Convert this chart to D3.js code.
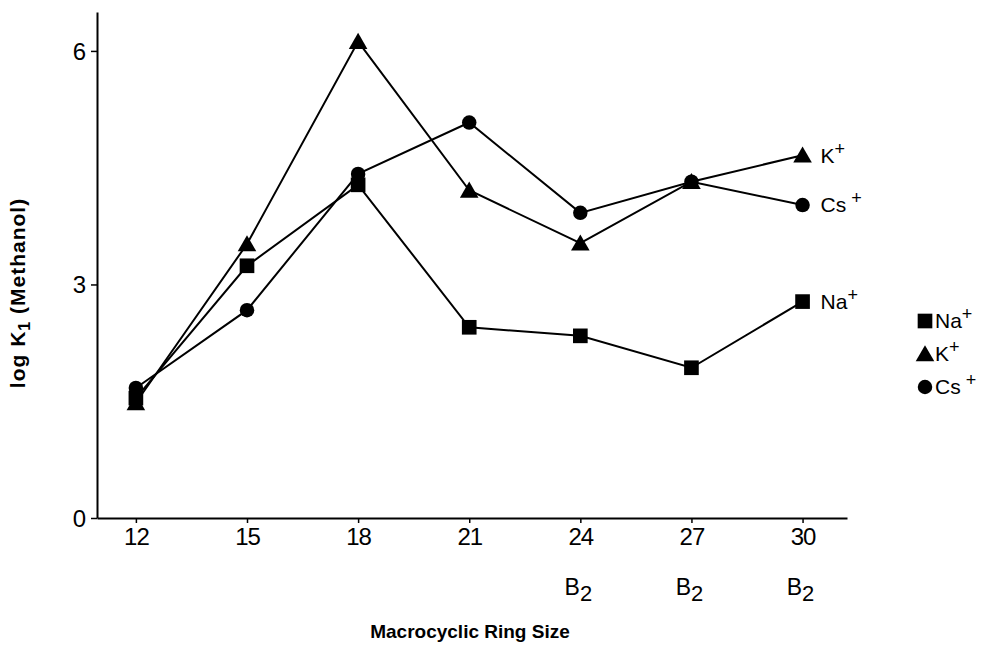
<!DOCTYPE html>
<html>
<head>
<meta charset="utf-8">
<script src="https://cdn.jsdelivr.net/npm/d3@7"></script>
<style>
  html, body { margin: 0; padding: 0; background: #fff; }
  svg { display: block; font-family: "Liberation Sans", Arial, sans-serif; }
</style>
</head>
<body>
<svg id="chart" width="984" height="647"></svg>
<script>
// ring sizes and log K1 values
const ringSizes = [12, 15, 18, 21, 24, 27, 30];
const benzoRings = [24, 27, 30];          // marked "B2" under the axis
const naValues = [1.54, 3.24, 4.28, 2.45, 2.34, 1.93, 2.78];
const kValues  = [1.48, 3.52, 6.12, 4.21, 3.53, 4.32, 4.66];
const csValues = [1.67, 2.67, 4.42, 5.08, 3.92, 4.32, 4.02];
const yTicks = [0, 3, 6];

const series = [
  { name: "Na", values: naValues, symbol: d3.symbolSquare,   size: 215, dy: 0 },
  { name: "K",  values: kValues,  symbol: d3.symbolTriangle, size: 150, dy: 2 },
  { name: "Cs", values: csValues, symbol: d3.symbolCircle,   size: 165, dy: 0 }
];

const svg = d3.select("#chart");

const x = d3.scaleLinear().domain([10.95, 31.2]).range([97, 847]);
const y = d3.scaleLinear().domain([0, 6.5]).range([518, 12]);

// --- axes ---
const xAxis = svg.append("g")
  .attr("transform", `translate(0,${y(0)})`)
  .call(d3.axisBottom(x).tickValues(ringSizes).tickSize(5).tickSizeOuter(0).tickPadding(5));

const yAxis = svg.append("g")
  .attr("transform", `translate(${x(10.95)},0)`)
  .call(d3.axisLeft(y).tickValues(yTicks).tickFormat(d3.format("d"))
    .tickSize(6).tickSizeOuter(0).tickPadding(6));

[xAxis, yAxis].forEach(a => {
  a.select(".domain").attr("stroke", "#000").attr("stroke-width", 2);
  a.selectAll(".tick line").attr("stroke", "#000").attr("stroke-width", 1.5);
  a.selectAll(".tick text")
    .attr("fill", "#000")
    .style("font-size", "24px")
    .style("letter-spacing", "-1px");
});
yAxis.selectAll(".tick text").attr("dy", "0.35em");

// B2 labels under the benzo ring sizes
const b2 = svg.append("g").selectAll("text")
  .data(benzoRings)
  .join("text")
  .attr("x", d => x(d) - 2)
  .attr("y", 595)
  .attr("text-anchor", "middle")
  .style("font-size", "23px");
b2.append("tspan").text("B");
b2.append("tspan").attr("dy", 6).style("font-size", "22px").text("2");

// axis titles
svg.append("text")
  .attr("x", 470)
  .attr("y", 638)
  .attr("text-anchor", "middle")
  .style("font-size", "19px")
  .style("font-weight", "bold")
  .text("Macrocyclic Ring Size");

const yTitle = svg.append("text")
  .attr("transform", "translate(25,293) rotate(-90)")
  .attr("text-anchor", "middle")
  .style("font-size", "21px")
  .style("font-weight", "bold")
  .style("letter-spacing", "1px");
yTitle.append("tspan").text("log K");
yTitle.append("tspan").attr("dy", 5).style("font-size", "16px").text("1");
yTitle.append("tspan").attr("dy", -5).text(" (Methanol)");

// --- lines and markers ---
const line = d3.line()
  .x((d, i) => x(ringSizes[i]))
  .y(d => y(d));

series.forEach(s => {
  svg.append("path")
    .datum(s.values)
    .attr("d", line)
    .attr("fill", "none")
    .attr("stroke", "#000")
    .attr("stroke-width", 2);
});

series.forEach(s => {
  svg.append("g").selectAll("path")
    .data(s.values)
    .join("path")
    .attr("transform", (d, i) => `translate(${x(ringSizes[i])},${y(d) + s.dy})`)
    .attr("d", d3.symbol().type(s.symbol).size(s.size))
    .attr("fill", "#000");
});

// ion labels at the end of each line
function ionLabel(g, name, px, py, gap) {
  const t = g.append("text")
    .attr("x", px)
    .attr("y", py)
    .attr("dy", "0.35em")
    .style("font-size", "21px");
  t.append("tspan").text(name);
  t.append("tspan").attr("dx", gap).attr("dy", -8).style("font-size", "18px").text("+");
  return t;
}

const last = ringSizes.length - 1;
const endGap = { Na: 0, K: 0, Cs: 5 };
series.forEach(s => {
  ionLabel(svg, s.name, x(ringSizes[last]) + 18, y(s.values[last]), endGap[s.name]);
});

// legend
const legendY = [321, 354, 387];
const legend = svg.append("g");
series.forEach((s, i) => {
  legend.append("path")
    .attr("transform", `translate(925,${legendY[i] + s.dy})`)
    .attr("d", d3.symbol().type(s.symbol).size(s.size))
    .attr("fill", "#000");
  ionLabel(legend, s.name, 935, legendY[i], endGap[s.name]);
});
</script>
</body>
</html>
